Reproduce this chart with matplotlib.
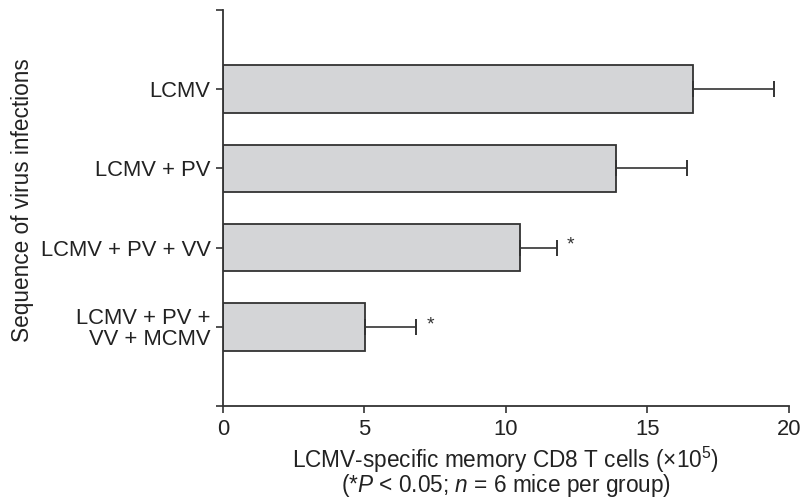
import matplotlib
matplotlib.use("Agg")
import matplotlib.pyplot as plt

plt.rcParams['font.family'] = ['Liberation Sans', 'DejaVu Sans']
plt.rcParams['mathtext.fontset'] = 'custom'
plt.rcParams['mathtext.rm'] = 'Liberation Sans'
plt.rcParams['mathtext.it'] = 'Liberation Sans:italic'

categories = ["LCMV", "LCMV + PV", "LCMV + PV + VV", "LCMV + PV +\nVV + MCMV"]
values = [16.6, 13.9, 10.5, 5.02]
errors = [2.88, 2.5, 1.3, 1.8]
significant = [False, False, True, True]
xticks = [0, 5, 10, 15, 20]

axcol = '#333333'
fig = plt.figure(figsize=(8.04, 4.99), dpi=100)
ax = fig.add_axes([0.2774, 0.186, 0.981 - 0.2774, 0.794])

pos = list(range(1, len(categories) + 1))
ax.barh(pos, values, height=0.6, color='#d4d5d7', edgecolor=axcol, linewidth=1.3)
ax.errorbar(values, pos, xerr=[[0]*len(errors), errors], fmt='none',
            ecolor=axcol, elinewidth=1.2, capsize=6, capthick=1.4)
for p, v, e, s in zip(pos, values, errors, significant):
    if s:
        ax.text(v + e + 0.5, p - 0.03, '*', ha='center', va='center', fontsize=14, color=axcol)

ax.set_xlim(0, 20)
ax.set_ylim(5, 0)
ax.set_yticks([0, 1, 2, 3, 4, 5])
ax.set_yticklabels([''] + categories + [''], fontsize=15.8, linespacing=0.95)
ax.set_xticks(xticks)
ax.set_xticklabels([str(t) for t in xticks], fontsize=15.8)
for s in ['top', 'right']:
    ax.spines[s].set_visible(False)
for s in ['left', 'bottom']:
    ax.spines[s].set_color(axcol)
    ax.spines[s].set_linewidth(1.3)
ax.tick_params(axis='both', colors=axcol, labelcolor='#222222', length=5, width=1.2, pad=4)

ax.set_xlabel("LCMV-specific memory CD8 T cells (×10$^{5}$)\n(*$P$ < 0.05; $n$ = 6 mice per group)",
              fontsize=16.3, color='#222222', labelpad=4, linespacing=0.84)
ax.set_ylabel("Sequence of virus infections", fontsize=16.3, color='#222222')
ax.yaxis.set_label_coords(-0.335, 0.52)

fig.savefig("out.png", dpi=100)
